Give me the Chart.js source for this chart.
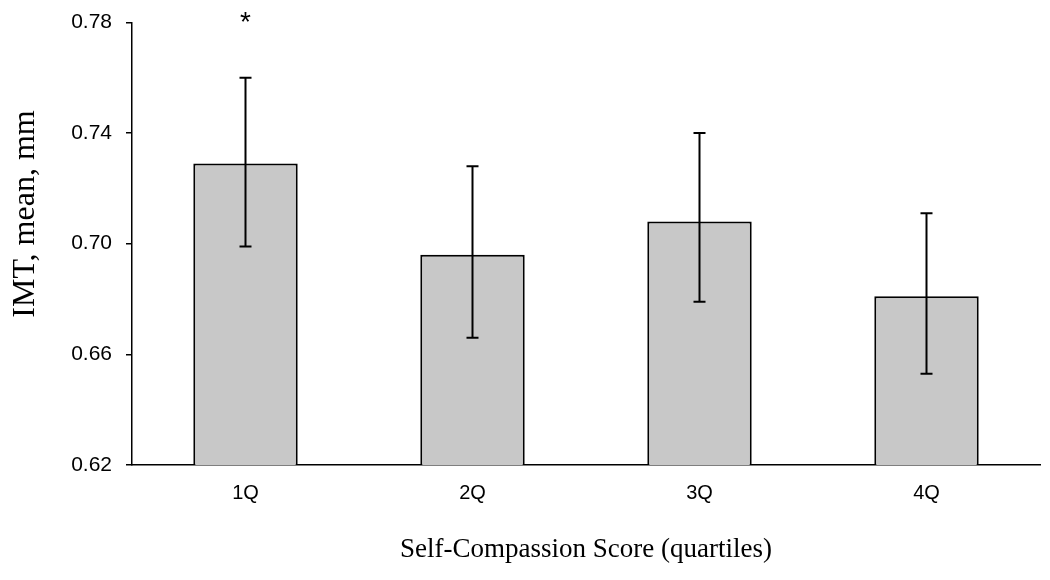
<!DOCTYPE html>
<html>
<head>
<meta charset="utf-8">
<script src="https://cdn.jsdelivr.net/npm/chart.js@4"></script>
<style>
  html, body { margin: 0; padding: 0; background: #fff; }
  #wrap { width: 1050px; height: 580px; }
</style>
</head>
<body>
<div id="wrap"><canvas id="imtChart"></canvas></div>
<script>
// values
const quartiles = ['1Q', '2Q', '3Q', '4Q']
const imtMeans = [0.729, 0.696, 0.708, 0.681]
const errLow = [0.699, 0.666, 0.679, 0.653]
const errHigh = [0.760, 0.728, 0.740, 0.711]
const sigMarks = ['*', '', '', '']

const yTicks = [0.62, 0.66, 0.70, 0.74, 0.78]
const yTitle = 'IMT, mean, mm'

// draws the error whiskers, the significance star and the y title
const errorBarsPlugin = {
  id: 'errorBars',
  afterDatasetsDraw(chart) {
    const ctx = chart.ctx
    const xs = chart.scales.x, ys = chart.scales.y
    ctx.save()
    ctx.strokeStyle = '#000'
    ctx.lineWidth = 2
    quartiles.forEach((q, i) => {
      const x = xs.getPixelForValue(i)
      const yl = ys.getPixelForValue(errLow[i])
      const yh = ys.getPixelForValue(errHigh[i])
      ctx.beginPath()
      ctx.moveTo(x, yl); ctx.lineTo(x, yh)
      ctx.moveTo(x - 6, yh); ctx.lineTo(x + 6, yh)
      ctx.moveTo(x - 6, yl); ctx.lineTo(x + 6, yl)
      ctx.stroke()
      if (sigMarks[i]) {
        ctx.fillStyle = '#000'
        ctx.font = '28px "Liberation Sans", Arial, sans-serif'
        ctx.textAlign = 'center'
        ctx.textBaseline = 'middle'
        ctx.fillText(sigMarks[i], x, ys.top + 1)
      }
    })
    // y title sits a bit above the middle of the axis in the original
    ctx.translate(26, 214)
    ctx.rotate(-Math.PI / 2)
    ctx.fillStyle = '#000'
    ctx.font = '32px "Liberation Serif", "Times New Roman", serif'
    ctx.textAlign = 'center'
    ctx.textBaseline = 'middle'
    ctx.fillText(yTitle, 0, 0)
    ctx.restore()
  }
}

const config = {
  type: 'bar',
  data: {
    labels: quartiles,
    datasets: [{
      data: imtMeans,
      backgroundColor: '#c8c8c8',
      borderColor: '#000',
      borderWidth: 2,
      barPercentage: 0.46,
      categoryPercentage: 1.0
    }]
  },
  options: {
    responsive: true,
    maintainAspectRatio: false,
    animation: false,
    layout: { padding: { top: 22, right: 10, left: 0, bottom: 0 } },
    plugins: {
      legend: { display: false },
      tooltip: { enabled: false }
    },
    scales: {
      x: {
        grid: { display: false, drawTicks: false },
        border: { display: true, color: '#000', width: 1.5 },
        ticks: {
          color: '#000',
          padding: 16,
          font: { family: '"Liberation Sans", Arial, sans-serif', size: 20 }
        },
        title: {
          display: true,
          text: 'Self-Compassion Score (quartiles)',
          color: '#000',
          font: { family: '"Liberation Serif", "Times New Roman", serif', size: 27 },
          padding: { top: 14, bottom: 14 }
        },
        afterFit: s => { s.height = 115 }
      },
      y: {
        min: 0.62,
        max: 0.78,
        afterBuildTicks: s => { s.ticks = yTicks.map(v => ({ value: v })) },
        grid: { drawOnChartArea: false, drawTicks: true, tickLength: 6, color: '#000', lineWidth: 1.5 },
        border: { display: true, color: '#000', width: 1.5 },
        ticks: {
          color: '#000',
          padding: 14,
          font: { family: '"Liberation Sans", Arial, sans-serif', size: 21, lineHeight: 0.8 },
          callback: v => v.toFixed(2)
        },
        afterFit: s => { s.width = 132 }
      }
    }
  },
  plugins: [errorBarsPlugin]
}

const chart = new Chart(document.getElementById('imtChart').getContext('2d'), config)
</script>
</body>
</html>
